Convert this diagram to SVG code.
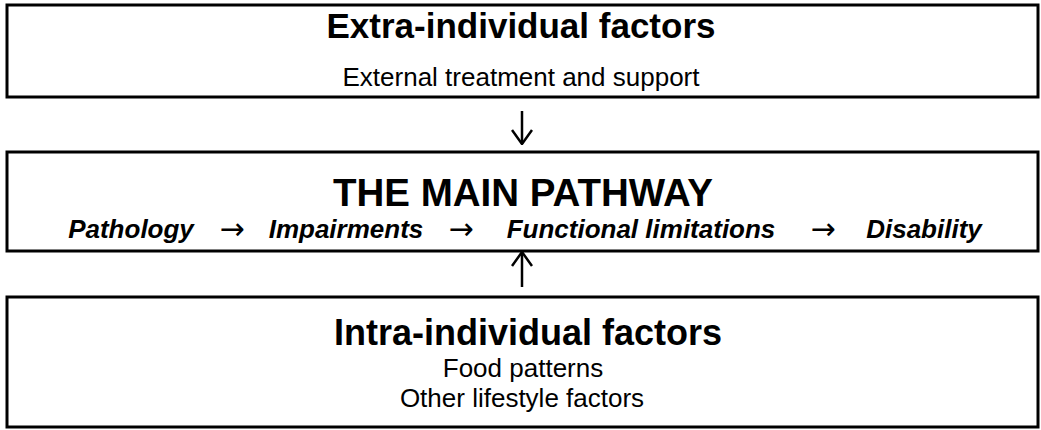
<svg xmlns="http://www.w3.org/2000/svg" width="1041" height="430" viewBox="0 0 1041 430">
  <style>
    .box { fill: #ffffff; stroke: #000000; stroke-width: 3; }
    .title { font-family: "Liberation Sans", Arial, sans-serif; font-weight: bold; fill: #000000; text-anchor: middle; }
    .sub { font-family: "Liberation Sans", Arial, sans-serif; font-size: 26px; fill: #000000; text-anchor: middle; }
    .step { font-family: "Liberation Sans", Arial, sans-serif; font-size: 26px; font-weight: bold; font-style: italic; fill: #000000; text-anchor: middle; }
    .arr { font-family: "DejaVu Sans", sans-serif; font-size: 30px; fill: #000000; text-anchor: middle; }
    .conn { stroke: #000000; stroke-width: 2.5; fill: none; }
  </style>
  <defs>
    <!-- open arrowhead, drawn pointing along +x so orient="auto" follows the line -->
    <marker id="head" viewBox="0 0 16 22" refX="15" refY="11" markerWidth="16" markerHeight="22" markerUnits="userSpaceOnUse" orient="auto">
      <path d="M1,1 L15,11 L1,21" fill="none" stroke="#000000" stroke-width="2.5"/>
    </marker>
  </defs>
  <rect width="1041" height="430" fill="#ffffff"/>

  <g id="extra-individual">
    <rect class="box" x="7" y="5" width="1031" height="92"/>
    <text class="title" x="521" y="38" font-size="35">Extra-individual factors</text>
    <text class="sub" x="521" y="86">External treatment and support</text>
  </g>

  <g id="main-pathway">
    <rect class="box" x="7" y="152" width="1031" height="99"/>
    <text class="title" x="523" y="206" font-size="38.5">THE MAIN PATHWAY</text>
    <text class="step" x="131" y="238">Pathology</text>
    <text class="arr" x="232" y="239">→</text>
    <text class="step" x="346" y="238">Impairments</text>
    <text class="arr" x="461" y="239">→</text>
    <text class="step" x="641" y="238">Functional limitations</text>
    <text class="arr" x="823" y="239">→</text>
    <text class="step" x="924" y="238">Disability</text>
  </g>

  <g id="intra-individual">
    <rect class="box" x="7" y="297" width="1031" height="130"/>
    <text class="title" x="528" y="345" font-size="36">Intra-individual factors</text>
    <text class="sub" x="523" y="377" font-size="25">Food patterns</text>
    <text class="sub" x="522" y="407" font-size="27">Other lifestyle factors</text>
  </g>

  <g id="connectors">
    <line class="conn" x1="522" y1="111" x2="522" y2="144" marker-end="url(#head)"/>
    <line class="conn" x1="522" y1="287" x2="522" y2="252" marker-end="url(#head)"/>
  </g>
</svg>
